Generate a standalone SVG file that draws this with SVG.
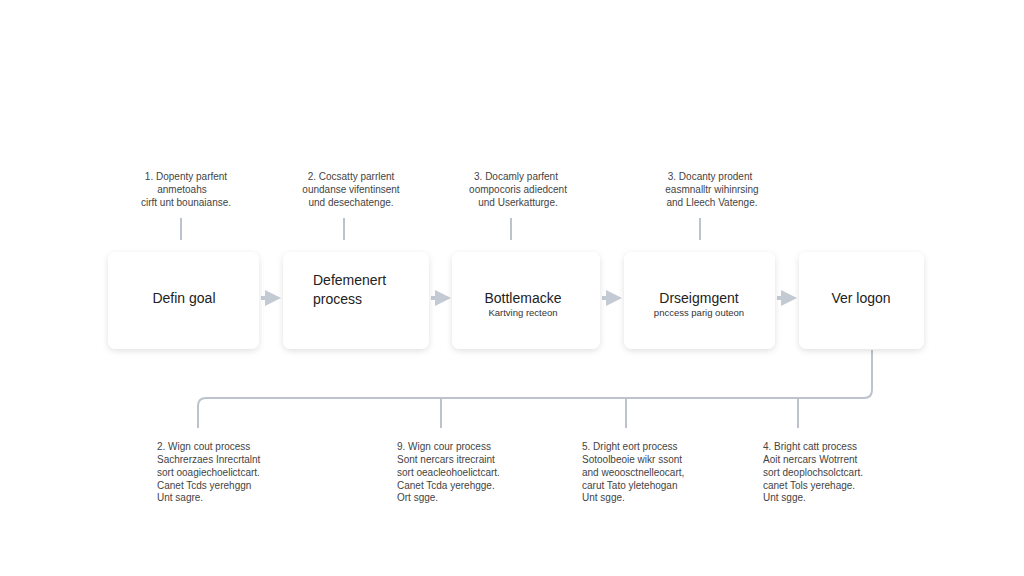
<svg xmlns="http://www.w3.org/2000/svg" width="1024" height="576" viewBox="0 0 1024 576">
<defs>
<filter id="sh" x="-20%" y="-20%" width="140%" height="150%"><feDropShadow dx="0" dy="2" stdDeviation="3" flood-color="#000" flood-opacity="0.12"/></filter>
<marker id="ah" markerWidth="4" markerHeight="4" refX="2.5" refY="2" orient="auto" markerUnits="strokeWidth"><path d="M0,0 L4,2 L0,4 Z" fill="#c3cad4"/></marker>
</defs>
<style>
.box{fill:#fff;filter:url(#sh)}
.t{font-family:"Liberation Sans",Arial,sans-serif;fill:#222;font-size:14px}
.s{font-family:"Liberation Sans",Arial,sans-serif;fill:#333;font-size:9.5px}
.a{font-family:"Liberation Sans",Arial,sans-serif;fill:#444;font-size:10px}
.ln{stroke:#bcc3cc;stroke-width:2;fill:none}
.ar{stroke:#c3cad4;stroke-width:4;fill:none;marker-end:url(#ah)}
</style>
<rect width="1024" height="576" fill="#fff"/>
<g id="connectors">
<line class="ar" x1="261" y1="298" x2="275" y2="298"/>
<line class="ar" x1="431" y1="298" x2="445" y2="298"/>
<line class="ar" x1="602" y1="298" x2="616" y2="298"/>
<line class="ar" x1="777" y1="298" x2="791" y2="298"/>
<line class="ln" x1="181" y1="218" x2="181" y2="240"/>
<line class="ln" x1="344" y1="218" x2="344" y2="240"/>
<line class="ln" x1="511" y1="218" x2="511" y2="240"/>
<line class="ln" x1="700" y1="218" x2="700" y2="240"/>
<path class="ln" d="M872,350 V390 Q872,398 864,398 H206 Q198,398 198,406 V428"/>
<line class="ln" x1="441" y1="398" x2="441" y2="428"/>
<line class="ln" x1="626" y1="398" x2="626" y2="428"/>
<line class="ln" x1="798" y1="398" x2="798" y2="428"/>
</g>
<g id="n1"><rect class="box" x="108" y="252" width="151" height="97" rx="8"/><text class="t" x="184" y="303" text-anchor="middle">Defin goal</text>
<text class="a" text-anchor="middle"><tspan x="186" y="180">1. Dopenty parfent</tspan><tspan x="182" y="193">anmetoahs</tspan><tspan x="186" y="206">cirft unt bounaianse.</tspan></text></g>
<g id="n2"><rect class="box" x="283" y="252" width="146" height="97" rx="8"/><text class="t"><tspan x="313" y="285">Defemenert</tspan><tspan x="313" y="304">process</tspan></text>
<text class="a" text-anchor="middle"><tspan x="351" y="180">2. Cocsatty parrlent</tspan><tspan x="351" y="193">oundanse vifentinsent</tspan><tspan x="351" y="206">und desechatenge.</tspan></text></g>
<g id="n3"><rect class="box" x="452" y="252" width="148" height="97" rx="8"/><text class="t" x="523" y="303" text-anchor="middle">Bottlemacke</text><text class="s" x="523" y="316" text-anchor="middle">Kartving recteon</text>
<text class="a" text-anchor="middle"><tspan x="516" y="180">3. Docamly parfent</tspan><tspan x="518" y="193">oompocoris adiedcent</tspan><tspan x="518" y="206">und Userkatturge.</tspan></text></g>
<g id="n4"><rect class="box" x="624" y="252" width="151" height="97" rx="8"/><text class="t" x="699" y="303" text-anchor="middle">Drseigmgent</text><text class="s" x="699" y="316" text-anchor="middle">pnccess parig outeon</text>
<text class="a" text-anchor="middle"><tspan x="710" y="180">3. Docanty prodent</tspan><tspan x="712" y="193">easmnalltr wihinrsing</tspan><tspan x="712" y="206">and Lleech Vatenge.</tspan></text></g>
<g id="n5"><rect class="box" x="799" y="252" width="125" height="97" rx="8"/><text class="t" x="861" y="303" text-anchor="middle">Ver logon</text></g>
<g id="b1"><text class="a"><tspan x="157" y="450">2. Wign cout process</tspan><tspan x="157" y="463">Sachrerzaes Inrecrtalnt</tspan><tspan x="157" y="476">sort ooagiechoelictcart.</tspan><tspan x="157" y="489">Canet Tcds yerehggn</tspan><tspan x="157" y="501">Unt sagre.</tspan></text></g>
<g id="b2"><text class="a"><tspan x="397" y="450">9. Wign cour process</tspan><tspan x="397" y="463">Sont nercars itrecraint</tspan><tspan x="397" y="476">sort oeacleohoelictcart.</tspan><tspan x="397" y="489">Canet Tcda yerehgge.</tspan><tspan x="397" y="501">Ort sgge.</tspan></text></g>
<g id="b3"><text class="a"><tspan x="582" y="450">5. Dright eort process</tspan><tspan x="582" y="463">Sotoolbeoie wikr ssont</tspan><tspan x="582" y="476">and weoosctnelleocart,</tspan><tspan x="582" y="489">carut Tato yletehogan</tspan><tspan x="582" y="501">Unt sgge.</tspan></text></g>
<g id="b4"><text class="a"><tspan x="763" y="450">4. Bright catt process</tspan><tspan x="763" y="463">Aoit nercars Wotrrent</tspan><tspan x="763" y="476">sort deoplochsolctcart.</tspan><tspan x="763" y="489">canet Tols yerehage.</tspan><tspan x="763" y="501">Unt sgge.</tspan></text></g>
</svg>
